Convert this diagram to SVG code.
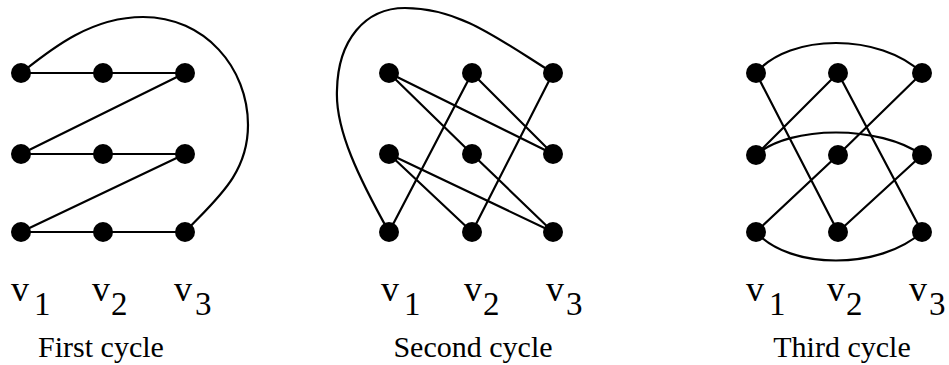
<svg xmlns="http://www.w3.org/2000/svg" width="949" height="365" viewBox="0 0 949 365">
<style>
.e{stroke:#000;stroke-width:2.2;fill:none;stroke-linecap:round}
.n{fill:#000}
.v{font-size:36px;fill:#000}
.d{font-size:33px;fill:#000}
.c{font-size:30px;fill:#000;text-anchor:middle}
</style>
<rect width="949" height="365" fill="#fff"/>
<g id="connectors">
<path class="e" d="M21,73 L185,73 L21,154 L185,154 L21,232 L185,232"/>
<path class="e" d="M21,73 C50,50 90,17 143,17 C205,17 248,68 248,125 C248,175 215,200 185,232"/>
<path class="e" d="M389,73 L553,154 M389,73 L472,154 M472,73 L389,232 M472,73 L553,154 M553,73 L472,232 M389,154 L472,232 M389,154 L553,232 M472,154 L553,232"/>
<path class="e" d="M389,232 C360,180 335,130 337,90 C338,40 365,8 405,8 C460,8 500,40 553,73"/>
<path class="e" d="M756,73 L838,232 M838,73 L756,155 M838,73 L922,232 M922,73 L838,155 M838,155 L756,232 M922,155 L838,232"/>
<path class="e" d="M756,73 C790,33 880,33 922,73"/>
<path class="e" d="M756,155 C790,125 880,125 922,155"/>
<path class="e" d="M756,232 C790,270 880,270 922,232"/>
</g>
<g id="first-cycle-nodes">
<g id="f11"><circle class="n" cx="21" cy="73" r="10"/></g>
<g id="f21"><circle class="n" cx="103" cy="73" r="10"/></g>
<g id="f31"><circle class="n" cx="185" cy="73" r="10"/></g>
<g id="f12"><circle class="n" cx="21" cy="154" r="10"/></g>
<g id="f22"><circle class="n" cx="103" cy="154" r="10"/></g>
<g id="f32"><circle class="n" cx="185" cy="154" r="10"/></g>
<g id="f13"><circle class="n" cx="21" cy="232" r="10"/></g>
<g id="f23"><circle class="n" cx="103" cy="232" r="10"/></g>
<g id="f33"><circle class="n" cx="185" cy="232" r="10"/></g>
</g>
<g id="second-cycle-nodes">
<g id="s11"><circle class="n" cx="389" cy="73" r="10"/></g>
<g id="s21"><circle class="n" cx="472" cy="73" r="10"/></g>
<g id="s31"><circle class="n" cx="553" cy="73" r="10"/></g>
<g id="s12"><circle class="n" cx="389" cy="154" r="10"/></g>
<g id="s22"><circle class="n" cx="472" cy="154" r="10"/></g>
<g id="s32"><circle class="n" cx="553" cy="154" r="10"/></g>
<g id="s13"><circle class="n" cx="389" cy="232" r="10"/></g>
<g id="s23"><circle class="n" cx="472" cy="232" r="10"/></g>
<g id="s33"><circle class="n" cx="553" cy="232" r="10"/></g>
</g>
<g id="third-cycle-nodes">
<g id="t11"><circle class="n" cx="756" cy="73" r="10"/></g>
<g id="t21"><circle class="n" cx="838" cy="73" r="10"/></g>
<g id="t31"><circle class="n" cx="922" cy="73" r="10"/></g>
<g id="t12"><circle class="n" cx="756" cy="155" r="10"/></g>
<g id="t22"><circle class="n" cx="838" cy="155" r="10"/></g>
<g id="t32"><circle class="n" cx="922" cy="155" r="10"/></g>
<g id="t13"><circle class="n" cx="756" cy="232" r="10"/></g>
<g id="t23"><circle class="n" cx="838" cy="232" r="10"/></g>
<g id="t33"><circle class="n" cx="922" cy="232" r="10"/></g>
</g>
<g id="labels" font-family="Liberation Serif, Times New Roman, serif">
<text class="v" x="11" y="301">v</text><text class="d" x="34" y="315">1</text>
<text class="v" x="92" y="301">v</text><text class="d" x="111" y="315">2</text>
<text class="v" x="174" y="301">v</text><text class="d" x="195" y="315">3</text>
<text class="v" x="381" y="301">v</text><text class="d" x="404" y="315">1</text>
<text class="v" x="464" y="301">v</text><text class="d" x="483" y="315">2</text>
<text class="v" x="546" y="301">v</text><text class="d" x="566" y="315">3</text>
<text class="v" x="746" y="301">v</text><text class="d" x="769" y="315">1</text>
<text class="v" x="827" y="301">v</text><text class="d" x="846" y="315">2</text>
<text class="v" x="909" y="301">v</text><text class="d" x="929" y="315">3</text>
<text class="c" x="101" y="357">First cycle</text>
<text class="c" x="473" y="357">Second cycle</text>
<text class="c" x="842" y="357">Third cycle</text>
</g>
</svg>
